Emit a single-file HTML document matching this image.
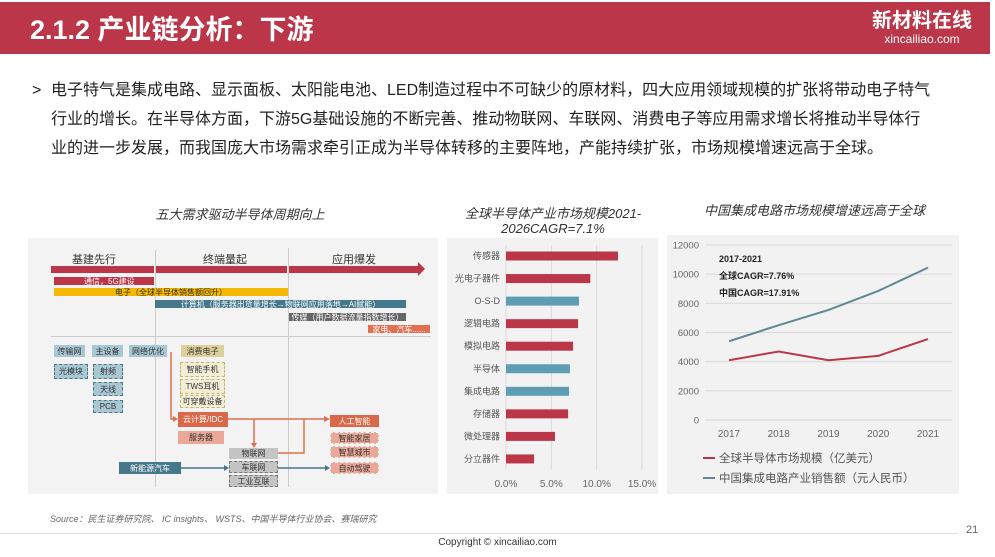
<!DOCTYPE html>
<html><head><meta charset="utf-8">
<style>
*{margin:0;padding:0;box-sizing:border-box}
body{width:995px;height:557px;background:#fff;position:relative;overflow:hidden;font-family:"Liberation Sans","Noto Sans CJK SC",sans-serif;color:#333}
.abs{position:absolute}
.hdr{left:0;top:2px;width:990px;height:52px;background:#bc3649}
.ttl{left:30px;top:8px;font-size:27px;font-weight:bold;color:#fff;letter-spacing:0px}
.body{left:32px;top:76px;width:940px;font-size:16px;line-height:29px;color:#222;white-space:nowrap}
.ct{font-style:italic;font-size:13px;color:#333;text-align:center}
.box{position:absolute;font-size:8px;display:flex;align-items:center;justify-content:center;white-space:nowrap;color:#333}
.bar{position:absolute;font-size:8px;color:#fff;display:flex;align-items:center;justify-content:center;white-space:nowrap}
</style></head><body>
<div class="abs hdr"></div>
<div class="abs ttl">2.1.2 产业链分析：下游</div>
<div class="abs" style="left:872px;top:10px;color:#fff;text-align:center">
<div style="font-size:20px;font-weight:bold;line-height:22px">新材料在线</div>
<div style="font-size:12px;line-height:14px">xincailiao.com</div></div>
<div class="abs body"><span style="position:absolute;left:0;top:0">&gt;</span><div style="padding-left:19px">电子特气是集成电路、显示面板、太阳能电池、LED制造过程中不可缺少的原材料，四大应用领域规模的扩张将带动电子特气<br>行业的增长。在半导体方面，下游5G基础设施的不断完善、推动物联网、车联网、消费电子等应用需求增长将推动半导体行<br>业的进一步发展，而我国庞大市场需求牵引正成为半导体转移的主要阵地，产能持续扩张，市场规模增速远高于全球。</div></div>

<!-- left diagram -->
<div class="abs ct" style="left:40px;top:204px;width:400px">五大需求驱动半导体周期向上</div>
<div class="abs" style="left:28px;top:238px;width:410px;height:256px;background:#f3f3f3"></div>
<div class="abs" style="left:155px;top:250px;width:1px;height:237px;background:#ccc"></div>
<div class="abs" style="left:288px;top:248px;width:1px;height:239px;background:#ccc"></div>
<div class="abs" style="left:51px;top:336px;width:380px;height:1px;background:#ccc"></div>
<div class="abs" style="left:72px;top:251px;font-size:11px">基建先行</div>
<div class="abs" style="left:203px;top:251px;font-size:11px">终端量起</div>
<div class="abs" style="left:332px;top:251px;font-size:11px">应用爆发</div>
<div class="abs" style="left:51px;top:266px;width:103px;height:7px;background:#bc3649"></div>
<div class="abs" style="left:156px;top:266px;width:131px;height:7px;background:#bc3649"></div>
<div class="abs" style="left:289px;top:266px;width:129px;height:7px;background:#bc3649"></div>
<div class="abs" style="left:418px;top:262px;width:0;height:0;border-top:7px solid transparent;border-bottom:7px solid transparent;border-left:7px solid #bc3649"></div>
<div class="bar" style="left:54px;top:277px;width:100px;height:8px;background:#bc3649;justify-content:flex-start;padding-left:30px">通信，5G建设</div>
<div class="bar" style="left:54px;top:288px;width:234px;height:8px;background:#f5b800;color:#333">电子（全球半导体销售额回升）</div>
<div class="bar" style="left:155px;top:300px;width:251px;height:8px;background:#45788a">计算机（服务器出货量增长→物联网应用落地→AI赋能）</div>
<div class="bar" style="left:289px;top:313px;width:117px;height:8px;background:#666">传媒（用户数据流量指数增长）</div>
<div class="bar" style="left:368px;top:325px;width:62px;height:8px;background:#e07050">家电、汽车......</div>
<div class="box" style="left:54px;top:345px;width:31px;height:12px;background:#a9c8d4">传输网</div>
<div class="box" style="left:92px;top:345px;width:31px;height:12px;background:#a9c8d4">主设备</div>
<div class="box" style="left:129px;top:345px;width:38px;height:12px;background:#a9c8d4">网络优化</div>
<div class="box" style="left:181px;top:345px;width:43px;height:12px;background:#ddd09a">消费电子</div>
<div class="box" style="left:54px;top:364px;width:34px;height:15px;background:#a9c8d4;border:1.5px dashed #45788a">光模块</div>
<div class="box" style="left:93px;top:364px;width:30px;height:15px;background:#a9c8d4;border:1.5px dashed #45788a">射频</div>
<div class="box" style="left:93px;top:382px;width:30px;height:14px;background:#a9c8d4;border:1.5px dashed #45788a">天线</div>
<div class="box" style="left:93px;top:400px;width:30px;height:13px;background:#a9c8d4;border:1.5px dashed #45788a">PCB</div>
<div class="box" style="left:180px;top:362px;width:45px;height:15px;background:#f3edd8;border:1.5px dashed #c8b560">智能手机</div>
<div class="box" style="left:180px;top:379px;width:45px;height:15px;background:#f3edd8;border:1.5px dashed #c8b560">TWS耳机</div>
<div class="box" style="left:180px;top:395px;width:45px;height:13px;background:#f3edd8;border:1.5px dashed #c8b560">可穿戴设备</div>
<div class="box" style="left:178px;top:412px;width:50px;height:15px;background:#d9694a;color:#fff">云计算/IDC</div>
<div class="box" style="left:178px;top:431px;width:46px;height:13px;background:#eba898">服务器</div>
<div class="box" style="left:330px;top:415px;width:49px;height:12px;background:#d9694a;color:#fff">人工智能</div>
<div class="box" style="left:330px;top:432px;width:49px;height:12px;background:#eba898;border:1px dashed #fff">智能家居</div>
<div class="box" style="left:330px;top:446px;width:49px;height:12px;background:#eba898;border:1px dashed #fff">智慧城市</div>
<div class="box" style="left:330px;top:462px;width:49px;height:12px;background:#eba898;border:1px dashed #fff">自动驾驶</div>
<div class="box" style="left:229px;top:448px;width:49px;height:11px;background:#c4c4c4">物联网</div>
<div class="box" style="left:229px;top:461px;width:49px;height:12px;background:#c4c4c4;border:1.5px dashed #777">车联网</div>
<div class="box" style="left:229px;top:475px;width:49px;height:12px;background:#c4c4c4;border:1.5px dashed #777">工业互联</div>
<div class="box" style="left:119px;top:462px;width:62px;height:12px;background:#45788a;color:#fff">新能源汽车</div>
<svg class="abs" style="left:0;top:0" width="995" height="557">
<g stroke="#e0704f" stroke-width="1.5" fill="none">
<polyline points="171,352 171,419 176,419"/><line x1="228" y1="419" x2="326" y2="419"/>
<line x1="254" y1="419" x2="254" y2="445"/><polyline points="278,453 304,453 304,419"/></g>
<g fill="#e0704f"><polygon points="178,419 173,416 173,422"/><polygon points="330,419 324,416 324,422"/><polygon points="254,448 251,443 257,443"/></g>
<g stroke="#45788a" stroke-width="1.5"><line x1="181" y1="468" x2="225" y2="468"/><line x1="278" y1="468" x2="326" y2="468"/></g>
<g fill="#45788a"><polygon points="229,468 224,465 224,471"/><polygon points="330,468 325,465 325,471"/></g>
</svg>

<!-- middle bar chart -->
<div class="abs ct" style="left:447px;top:206px;width:212px;line-height:15px">全球半导体产业市场规模2021-2026CAGR=7.1%</div>
<div class="abs" style="left:447px;top:238px;width:211px;height:256px;background:#f2f2f2"></div>
<svg id="bars" class="abs" style="left:0;top:0" width="995" height="557"></svg>

<!-- right line chart -->
<div class="abs ct" style="left:667px;top:200px;width:295px">中国集成电路市场规模增速远高于全球</div>
<div class="abs" style="left:667px;top:235px;width:292px;height:259px;background:#f2f2f2"></div>
<svg id="lines" class="abs" style="left:0;top:0" width="995" height="557"></svg>
<div class="abs" style="left:719px;top:251px;font-size:9px;font-weight:bold;line-height:17px;color:#222">2017-2021<br>全球CAGR=7.76%<br>中国CAGR=17.91%</div>

<div class="abs" style="left:50px;top:512px;font-size:9px;font-style:italic;color:#666">Source：民生证券研究院、 IC insights、 WSTS、中国半导体行业协会、赛瑞研究</div>
<div class="abs" style="left:0;top:533px;width:958px;height:1px;background:#ddd"></div>
<div class="abs" style="left:966px;top:524px;font-size:11px;color:#666">21</div>
<div class="abs" style="left:0;top:537px;width:995px;text-align:center;font-size:10px;color:#333">Copyright © xincailiao.com</div>

<script>
const NS='http://www.w3.org/2000/svg';
function mk(p,t,a,txt){const e=document.createElementNS(NS,t);for(const k in a)e.setAttribute(k,a[k]);if(txt!==undefined)e.textContent=txt;p.appendChild(e);return e;}
// bar chart data
const barCats=['传感器','光电子器件','O-S-D','逻辑电路','模拟电路','半导体','集成电路','存储器','微处理器','分立器件'];
const barVals=[12.35,9.3,8.05,7.95,7.4,7.05,6.95,6.85,5.4,3.1];
const barHighlight=[0,0,1,0,0,1,1,0,0,0];
const barTicks=[0,5,10,15];
const bs=document.getElementById('bars');
const bx=v=>506+v*(136/15), by=i=>256+i*22.55;
barTicks.forEach(t=>{const l=mk(bs,'line',{x1:bx(t),x2:bx(t),y1:245,y2:470,stroke:'#d9d9d9','stroke-width':1});

const tx=mk(bs,'text',{x:bx(t),y:487,'text-anchor':'middle','font-size':10,fill:'#666'},t.toFixed(1)+'%');
});
barCats.forEach((c,i)=>{const r=mk(bs,'rect',{x:bx(0),y:by(i)-4.5,width:bx(barVals[i])-bx(0),height:9,fill:barHighlight[i]?'#5f9db5':'#bc3649'});

const t=mk(bs,'text',{x:500,y:by(i)+3,'text-anchor':'end','font-size':9,fill:'#555'},c);
});
// line chart data
const years=['2017','2018','2019','2020','2021'];
const globalVals=[4100,4700,4100,4400,5550];
const chinaVals=[5400,6500,7550,8850,10450];
const yTicks=[0,2000,4000,6000,8000,10000,12000];
const ls=document.getElementById('lines');
const lx=i=>729+i*49.75, ly=v=>420-v*(175/12000);
yTicks.forEach(t=>{const l=mk(ls,'line',{x1:705,x2:952,y1:ly(t),y2:ly(t),stroke:'#dcdcdc','stroke-width':1.2});

const tx=mk(ls,'text',{x:699,y:ly(t)+3.5,'text-anchor':'end','font-size':9.5,fill:'#666'},t);
});
years.forEach((y,i)=>{const tx=mk(ls,'text',{x:lx(i),y:437,'text-anchor':'middle','font-size':10,fill:'#666'},y);
});
const cl=mk(ls,'polyline',{points:chinaVals.map((v,i)=>lx(i)+','+ly(v)).join(' '),fill:'none',stroke:'#5f8a93','stroke-width':2});

const gl=mk(ls,'polyline',{points:globalVals.map((v,i)=>lx(i)+','+ly(v)).join(' '),fill:'none',stroke:'#bc3649','stroke-width':2});

const lg=[['全球半导体市场规模（亿美元）','#bc3649',458],['中国集成电路产业销售额（元人民币）','#5f8a93',478]];
lg.forEach(([t,c,y])=>{const l=mk(ls,'line',{x1:703,x2:715,y1:y,y2:y,stroke:c,'stroke-width':2});

const tx=mk(ls,'text',{x:719,y:y+4,'font-size':11.5,fill:'#555'},t);
});
</script>
</body></html>
